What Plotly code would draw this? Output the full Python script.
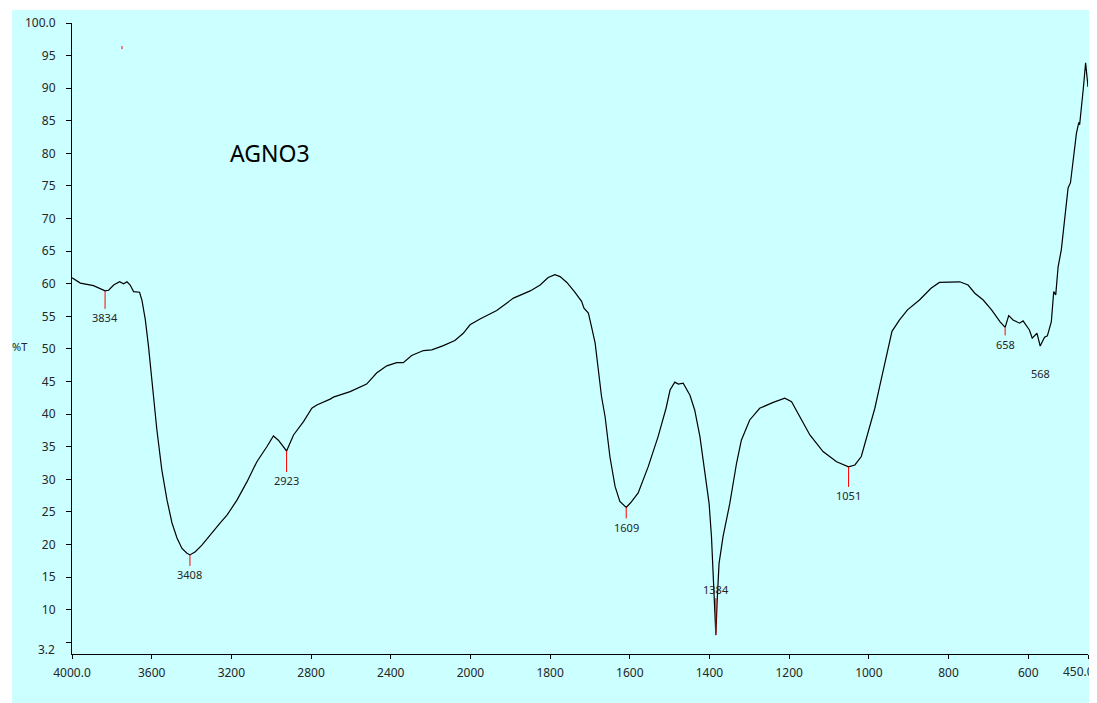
import numpy as np
import plotly.graph_objects as go

# ---------------- data ----------------
wavenumber = [4000, 3958, 3892, 3834, 3816, 3791, 3761, 3741, 3724, 3708, 3691, 3661,
              3649, 3632, 3616, 3599, 3591, 3574, 3549, 3523, 3498, 3473, 3448, 3423,
              3408, 3381, 3348, 3306, 3256, 3222, 3172, 3122, 3072, 3022, 2989, 2964,
              2923, 2888, 2855, 2838, 2796, 2771, 2704, 2688, 2604, 2521, 2471, 2420,
              2370, 2337, 2295, 2236, 2194, 2136, 2078, 2036, 2002, 1976, 1934, 1892,
              1850, 1825, 1805, 1788, 1775, 1758, 1738, 1721, 1715, 1704, 1696, 1687,
              1679, 1671, 1662, 1650, 1637, 1625, 1609, 1598, 1579, 1554, 1529, 1509,
              1499, 1487, 1478, 1466, 1449, 1437, 1424, 1412, 1401, 1395, 1391, 1384,
              1381, 1376, 1366, 1349, 1332, 1320, 1299, 1274, 1240, 1211, 1194, 1173,
              1148, 1115, 1081, 1051, 1035, 1019, 998, 985, 973, 964, 952, 942,
              923, 903, 873, 844, 823, 797, 772, 751, 734, 713, 692, 671,
              658, 649, 638, 622, 613, 597, 590, 578, 570, 559, 552, 542,
              536, 531, 525, 517, 500, 494, 479, 473, 471, 462, 456, 450]
transmittance = [60.9, 60.1, 59.7, 58.9, 59.0, 59.8, 60.3, 60.0, 60.3, 59.8, 58.8, 58.7,
                 57.5, 54.5, 50.4, 45.2, 43.2, 37.6, 31.4, 26.8, 23.3, 21.0, 19.4, 18.65,
                 18.4, 18.9, 19.9, 21.5, 23.3, 24.5, 26.8, 29.6, 32.7, 35.0, 36.65, 36.0,
                 34.35, 36.8, 38.2, 38.85, 40.9, 41.4, 42.3, 42.6, 43.45, 44.6, 46.3, 47.4,
                 47.9, 47.9, 49.0, 49.75, 49.85, 50.5, 51.3, 52.4, 53.7, 54.6, 55.9, 57.8,
                 58.9, 59.8, 60.95, 61.4, 61.1, 60.2, 58.7, 57.3, 56.25, 55.5, 53.4, 50.9,
                 46.8, 42.7, 39.6, 33.5, 28.9, 26.6, 25.7, 26.4, 27.9, 31.9, 36.55, 40.9,
                 43.7, 44.9, 44.6, 44.75, 42.9, 40.6, 36.55, 31.4, 26.3, 21.2, 16.1, 6.1,
                 11.0, 17.1, 21.2, 26.3, 32.5, 36.0, 39.1, 40.9, 41.8, 42.45, 41.9, 39.6,
                 36.8, 34.25, 32.7, 31.9, 32.2, 33.5, 38.1, 40.9, 44.2, 46.8, 49.85, 52.7,
                 54.45, 56.0, 57.5, 59.3, 60.2, 60.2, 60.3, 59.8, 58.55, 57.5, 56.0, 54.2,
                 53.3, 55.1, 54.45, 53.95, 54.3, 52.9, 51.65, 52.4, 50.45, 51.8, 52.0, 54.2,
                 58.8, 58.3, 62.6, 65.2, 74.7, 75.5, 83.1, 84.75, 84.4, 89.8, 93.9, 90.2]

peak_labels = [3834, 3408, 2923, 1609, 1384, 1051, 658, 568]
peak_marked = [True, True, True, True, True, True, True, False]

x_tick_values = [4000, 3600, 3200, 2800, 2400, 2000, 1800, 1600, 1400, 1200, 1000, 800, 600, 450]
x_tick_labels = ["4000.0", "3600", "3200", "2800", "2400", "2000", "1800", "1600",
                 "1400", "1200", "1000", "800", "600", "450.0"]
y_tick_values = [5, 10, 15, 20, 25, 30, 35, 40, 45, 50, 55, 60, 65, 70, 75, 80, 85, 90, 95, 100]
y_tick_labels = ["", "10", "15", "20", "25", "30", "35", "40", "45", "50", "55", "60",
                 "65", "70", "75", "80", "85", "90", "95", "100.0"]

sample_name = "AGNO3"
y_title = "%T"

# ---------------- styling ----------------
# label offset (pixels below the peak point; negative = above)
label_offset_px = {3834: 27, 3408: 20, 2923: 30, 1609: 20, 1384: -46, 1051: 29, 658: 17, 568: 29}
BG = "#CCFFFF"
TXT = "#262626"
FONT = "Noto Sans"
TICK_SIZE = 12


def axis_pos(wn):
    """IR-style split scale: 4000-2000 compressed by a factor 2."""
    wn = np.asarray(wn, dtype=float)
    return np.where(wn <= 2000, wn, 2000 + (wn - 2000) / 2.0)


wn_arr = np.array(wavenumber, dtype=float)
t_arr = np.array(transmittance, dtype=float)

fig = go.Figure()
fig.add_trace(go.Scatter(x=axis_pos(wn_arr), y=t_arr, mode="lines",
                         line=dict(color="black", width=1.2), hoverinfo="skip",
                         showlegend=False, cliponaxis=False))

# small stray red mark near the top
fig.add_trace(go.Scatter(x=axis_pos([3749, 3749]), y=[96.45, 96.0], mode="lines",
                         line=dict(color="red", width=1), showlegend=False, hoverinfo="skip"))

annotations = []
for p, marked in zip(peak_labels, peak_marked):
    yv = float(np.interp(p, wn_arr[::-1], t_arr[::-1]))
    if marked:
        annotations.append(dict(x=float(axis_pos(p)), y=yv, xref="x", yref="y",
                                text=str(p), showarrow=True, arrowhead=0,
                                arrowcolor="red", arrowwidth=1, ax=0,
                                ay=label_offset_px[p], standoff=0,
                                font=dict(family=FONT, size=11, color=TXT)))
    else:
        annotations.append(dict(x=float(axis_pos(p)), y=yv, xref="x", yref="y",
                                text=str(p), showarrow=False,
                                yshift=-label_offset_px[p],
                                font=dict(family=FONT, size=11, color=TXT)))

annotations.append(dict(x=0.195, y=0.794, xref="paper", yref="paper", text=sample_name,
                        xanchor="center", yanchor="middle",
                        showarrow=False, font=dict(family=FONT, size=23, color="black")))
annotations.append(dict(x=-0.0512, y=50.3, xref="paper", yref="y", text=y_title,
                        xanchor="center", yanchor="middle",
                        showarrow=False, font=dict(family=FONT, size=11, color=TXT)))
annotations.append(dict(x=0, y=3.96, xref="paper", yref="y", text="3.2",
                        xanchor="right", yanchor="middle", xshift=-15, showarrow=False,
                        font=dict(family=FONT, size=TICK_SIZE, color=TXT)))
# last x tick label, kept inside the page (it sits at the very right edge)
annotations.append(dict(x=1, y=0, xref="paper", yref="paper", text=x_tick_labels[-1],
                        xanchor="right", yanchor="middle", xshift=8, yshift=-17,
                        showarrow=False, font=dict(family=FONT, size=TICK_SIZE, color=TXT)))
axis_tick_text = x_tick_labels[:-1] + [""]

# the page body has an 8px default margin: the figure is sized/offset accordingly
fig.update_layout(
    width=1089, height=695,
    margin=dict(l=64, r=9, t=15, b=49, autoexpand=False),
    paper_bgcolor="white", plot_bgcolor=BG,
    shapes=[dict(type="rect", xref="paper", yref="paper", x0=-0.059, x1=1.02,
                 y0=-0.09, y1=1.0206, fillcolor=BG, line=dict(width=0), layer="below")],
    annotations=annotations,
    xaxis=dict(range=[float(axis_pos(4000)), 450], tickvals=axis_pos(x_tick_values).tolist(),
               ticktext=axis_tick_text, showgrid=False, zeroline=False, showline=True,
               linecolor="black", linewidth=1, ticks="outside", ticklen=4, tickcolor="black",
               tickfont=dict(family=FONT, size=TICK_SIZE, color=TXT), ticklabelstandoff=4,
               ticklabeloverflow="allow", automargin=False),
    yaxis=dict(range=[3.2, 100], tickvals=y_tick_values, ticktext=y_tick_labels,
               showgrid=False, zeroline=False, showline=True, linecolor="black",
               linewidth=1, ticks="outside", ticklen=5, tickcolor="black",
               tickfont=dict(family=FONT, size=TICK_SIZE, color=TXT), ticklabelstandoff=8,
               automargin=False),
    font=dict(family=FONT),
)

fig.write_html("out.html")
